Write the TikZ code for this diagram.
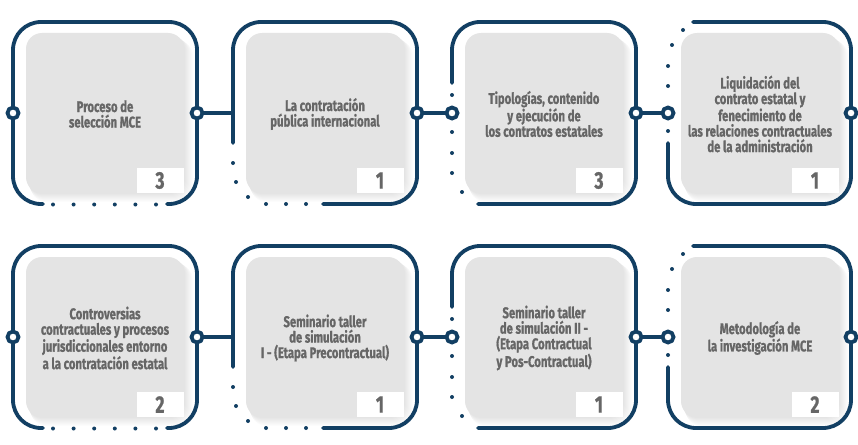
\documentclass[tikz,border=0pt]{standalone}
\usepackage{fontspec}
\setmainfont{Fira Sans}[FakeStretch=0.73, BoldFeatures={FakeBold=0.8}]
\definecolor{navy}{HTML}{123F63}
\definecolor{boxgrey}{HTML}{E4E4E4}
\definecolor{txtgrey}{HTML}{666666}
\tikzset{
  cardframe/.style={draw=navy, line width=3.8pt, rounded corners=28pt, line cap=round},
  conn/.style={draw=navy, line width=3.8pt},
  ring/.style={circle, draw=navy, fill=white, line width=3.8pt, minimum size=11pt, inner sep=0pt},
  dotmark/.style={circle, fill=navy, minimum size=4pt, inner sep=0pt},
  cardtext/.style={text=txtgrey, font=\bfseries\fontsize{15.5}{15.5}\selectfont, align=center, inner sep=0pt},
  numtext/.style={text=txtgrey, font=\bfseries\fontsize{24}{24}\selectfont, inner sep=0pt},
}
% #1 name, #2 frame left, #3 frame top, #4 number, #5 text
\newcommand{\cardbody}[5]{%
  \pgfmathsetmacro{\gx}{#2+13}\pgfmathsetmacro{\gy}{#3+11}%
  \pgfmathsetmacro{\gX}{#2+171}\pgfmathsetmacro{\gY}{#3+171}%
  \foreach \s in {1,...,9}{\fill[black, opacity=0.012, rounded corners=16pt] (\gx+\s*0.5,\gy+\s*0.8) rectangle (\gX+\s,\gY+\s);}
  \fill[boxgrey, rounded corners=16pt] (\gx,\gy) rectangle (\gX,\gY);
  \fill[white] (\gX-47,\gY-25) rectangle (\gX,\gY);
  \node[numtext] (#1n) at (\gX-24,\gY-12.5) {#4};
  \node[cardtext] (#1t) at ({(\gx+\gX)/2},{(\gy+\gY)/2+1}) {#5};
}
% frames: #1 name, #2 L, #3 R, #4 T, #5 B, #6 mid
\newcommand{\frameA}[6]{%
  \draw[cardframe] (#2+30,#5) -- (#2,#5) -- (#2,#4) -- (#3,#4) -- (#3,#5) -- (#3-30,#5);
  \foreach \i in {0,...,5}{\node[dotmark] at (#2+40+20.6*\i,#5+0.5) {};}
  \node[ring] (#1l) at (#2,#6) {};
  \node[ring] (#1r) at (#3,#6) {};
}
\newcommand{\frameB}[6]{%
  \draw[cardframe] (#2,#6+30) -- (#2,#4) -- (#3,#4) -- (#3,#5) -- (#2+90,#5);
  \node[dotmark] at (#2,#6+50) {};
  \node[dotmark] at (#2+3,#6+69) {};
  \node[dotmark] at (#2+15,#6+84) {};
  \node[dotmark] at (#2+33,#5) {};
  \node[dotmark] at (#2+53,#5) {};
  \node[dotmark] at (#2+73,#5) {};
  \coordinate (#1l) at (#2,#6);
  \node[ring] (#1r) at (#3,#6) {};
}
\newcommand{\frameC}[6]{%
  \draw[cardframe] (#2,#6-30) -- (#2,#4) -- (#3,#4) -- (#3,#5) -- (#2+26,#5);
  \node[dotmark] at (#2,#6-18) {};
  \node[dotmark] at (#2,#6+19) {};
  \node[dotmark] at (#2,#6+40) {};
  \node[dotmark] at (#2,#6+60) {};
  \node[dotmark] at (#2+10,#6+79) {};
  \node[ring] (#1l) at (#2,#6) {};
  \node[ring] (#1r) at (#3,#6) {};
}
\newcommand{\frameD}[6]{%
  \draw[cardframe] (#2,#6+30) -- (#2,#5) -- (#3,#5) -- (#3,#4) -- (#2+25,#4);
  \node[dotmark] at (#2+15,#4+8) {};
  \node[dotmark] at (#2+4,#4+23) {};
  \node[dotmark] at (#2,#6-47) {};
  \node[dotmark] at (#2,#6-27) {};
  \node[dotmark] at (#2,#6+18) {};
  \node[ring] (#1l) at (#2,#6) {};
  \node[ring] (#1r) at (#3,#6) {};
}
\begin{document}
\begin{tikzpicture}[x=1pt,y=-1pt]
\useasboundingbox (0,0) rectangle (858,444);
\fill[white] (0,0) rectangle (858,444);
% row 1
\cardbody{a}{13}{22}{3}{Proceso de\\selección MCE}
\cardbody{b}{233}{22}{1}{La contratación\\pública internacional}
\cardbody{c}{452}{22}{3}{Tipologías, contenido\\y ejecución de\\los contratos estatales}
\cardbody{d}{668}{22}{1}{Liquidación del\\contrato estatal y\\fenecimiento de\\las relaciones contractuales\\de la administración}
\frameA{a}{13}{197}{22}{204}{113}
\frameB{b}{233}{417}{22}{204}{113}
\frameC{c}{452}{636}{22}{204}{113}
\frameD{d}{668}{851}{22}{204}{113}
\draw[conn] (ar) -- (bl);
\draw[conn] (br) -- (cl);
\draw[conn] (cr) -- (dl);
% row 2
\cardbody{e}{13}{246}{2}{Controversias\\contractuales y procesos\\jurisdiccionales entorno\\a la contratación estatal}
\cardbody{f}{233}{246}{1}{Seminario taller\\de simulación\\I - (Etapa Precontractual)}
\cardbody{g}{452}{246}{1}{Seminario taller\\de simulación II -\\(Etapa Contractual\\y Pos-Contractual)}
\cardbody{h}{668}{246}{2}{Metodología de\\la investigación MCE}
\frameA{e}{13}{197}{246}{428}{337}
\frameB{f}{233}{417}{246}{428}{337}
\frameC{g}{452}{636}{246}{428}{337}
\frameD{h}{668}{851}{246}{428}{337}
\draw[conn] (er) -- (fl);
\draw[conn] (fr) -- (gl);
\draw[conn] (gr) -- (hl);
\end{tikzpicture}
\end{document}
